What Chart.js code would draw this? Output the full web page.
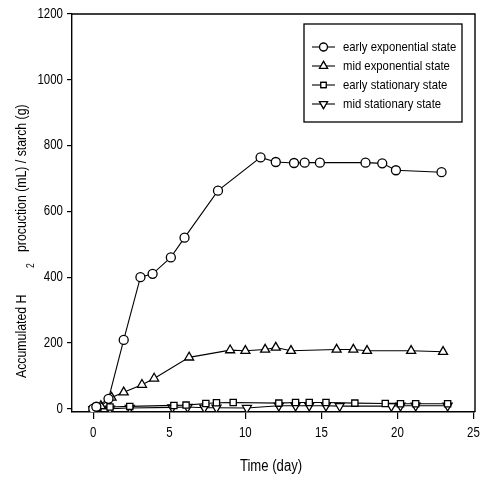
<!DOCTYPE html>
<html>
<head>
<meta charset="utf-8">
<script src="https://cdn.jsdelivr.net/npm/chart.js@4/dist/chart.umd.min.js"></script>
<style>
  html, body { margin: 0; padding: 0; background: #fff; }
  #wrap { width: 484px; height: 484px; }
</style>
</head>
<body>
<div id="wrap"><canvas id="chart" width="484" height="484"></canvas></div>
<script>
// series labels
const seriesNames = ['early exponential state', 'mid exponential state', 'early stationary state', 'mid stationary state'];

// (day, mL/g)
const earlyExpDays = [0, 0.2, 1, 2, 3.1, 3.9, 5.1, 6, 8.2, 11, 12, 13.2, 13.9, 14.9, 17.9, 19, 19.9, 22.9];
const earlyExpVals = [0, 6, 30, 209, 400, 410, 460, 520, 663, 764, 750, 747, 748, 748, 748, 746, 725, 719];

const midExpDays = [0, 0.5, 1.2, 2, 3.2, 4, 6.3, 9, 10, 11.3, 12, 13, 16, 17.1, 18, 20.9, 23];
const midExpVals = [0, 8, 34, 50, 73, 92, 156, 178, 176, 180, 186, 176, 180, 180, 176, 176, 173];

const earlyStatDays = [0, 0.3, 1.1, 2.4, 5.3, 6.1, 7.4, 8.1, 9.2, 12.2, 13.3, 14.2, 15.3, 17.2, 19.2, 20.2, 21.2, 23.3];
const earlyStatVals = [0, 3, 5, 7, 10, 11, 16, 18, 19, 17, 19, 19, 19, 17, 16, 15, 15, 15];

const midStatDays = [0, 0.3, 1.1, 2.4, 5.2, 6.2, 7.3, 8.1, 10.1, 12.2, 13.3, 14.2, 15.3, 16.2, 19.6, 20.2, 21.2, 23.3];
const midStatVals = [-2, 0, 0, 2, 4, 5, 3, 3, 2, 9, 9, 9, 9, 8, 8, 9, 9, 9];

const xTicks = [0, 5, 10, 15, 20, 25];
const yTicks = [0, 200, 400, 600, 800, 1000, 1200];

const FONT = '"Liberation Sans", Arial, sans-serif';

function pts(xs, ys) {
    return xs.map((x, i) => ({ x: x, y: ys[i] }));
}

// squeeze text sideways, the scan uses a narrow face
function narrowText(ctx, text, x, y, sx) {
    ctx.save();
    ctx.translate(x, y);
    ctx.scale(sx, 1);
    ctx.fillText(text, 0, 0);
    ctx.restore();
}

const markers = [
    { style: 'circle', radius: 4.5, rotation: 0 },
    { style: 'triangle', radius: 5.2, rotation: 0 },
    { style: 'rect', radius: 4.4, rotation: 0 },
    { style: 'triangle', radius: 5.2, rotation: 180 }
];

const seriesData = [
    pts(earlyExpDays, earlyExpVals),
    pts(midExpDays, midExpVals),
    pts(earlyStatDays, earlyStatVals),
    pts(midStatDays, midStatVals)
];

const datasets = seriesData.map((d, i) => ({
    label: seriesNames[i],
    data: d,
    borderColor: '#000',
    borderWidth: 1.1,
    backgroundColor: '#fff',
    pointStyle: markers[i].style,
    pointRadius: markers[i].radius,
    pointRotation: markers[i].rotation,
    pointBorderWidth: 1.3,
    pointBorderColor: '#000',
    pointBackgroundColor: '#fff',
    tension: 0
}));

// tick labels, frame, titles and in-plot legend
const decor = {
    id: 'decor',
    afterDraw(chart) {
        const ctx = chart.ctx;
        const a = chart.chartArea;
        const xs = chart.scales.x;
        const ys = chart.scales.y;
        ctx.save();
        ctx.strokeStyle = '#000';
        ctx.lineWidth = 1.4;
        ctx.beginPath();
        ctx.moveTo(a.left, a.top);
        ctx.lineTo(a.right, a.top);
        ctx.lineTo(a.right, a.bottom);
        ctx.stroke();

        ctx.fillStyle = '#000';
        ctx.font = '14px ' + FONT;
        ctx.textBaseline = 'middle';

        // tick labels
        ctx.textAlign = 'right';
        yTicks.forEach(v => narrowText(ctx, String(v), 63, ys.getPixelForValue(v), 0.82));
        ctx.textAlign = 'center';
        xTicks.forEach(v => narrowText(ctx, String(v), xs.getPixelForValue(v), 433, 0.82));

        // x title
        ctx.font = '16px ' + FONT;
        narrowText(ctx, 'Time (day)', 271, 467, 0.82);

        // y title with subscript
        ctx.translate(22, 0);
        ctx.rotate(-Math.PI / 2);
        ctx.textAlign = 'left';
        ctx.font = '15px ' + FONT;
        narrowText(ctx, 'Accumulated H', -378, 0, 0.82);
        ctx.font = '10px ' + FONT;
        narrowText(ctx, '2', -268, 9, 0.85);
        ctx.font = '15px ' + FONT;
        narrowText(ctx, 'procuction (mL) / starch (g)', -252, 0, 0.82);
        ctx.restore();

        // legend
        ctx.save();
        ctx.strokeStyle = '#000';
        ctx.lineWidth = 1.3;
        ctx.strokeRect(304, 24, 158, 98);
        ctx.font = '13px ' + FONT;
        ctx.textBaseline = 'middle';
        ctx.textAlign = 'left';
        const rows = [47, 66, 85, 104];
        seriesNames.forEach((name, i) => {
            const y = rows[i];
            ctx.lineWidth = 1.1;
            ctx.beginPath();
            ctx.moveTo(312, y);
            ctx.lineTo(335, y);
            ctx.stroke();
            ctx.fillStyle = '#fff';
            ctx.lineWidth = 1.2;
            Chart.helpers.drawPoint(ctx, {
                pointStyle: markers[i].style,
                radius: markers[i].radius - 0.6,
                rotation: markers[i].rotation,
                borderWidth: 1.2
            }, 323.5, y);
            ctx.fill();
            ctx.stroke();
            ctx.fillStyle = '#000';
            narrowText(ctx, name, 343, y + 0.5, 0.87);
        });
        ctx.restore();
    }
};

new Chart(document.getElementById('chart').getContext('2d'), {
    type: 'line',
    data: { datasets: datasets },
    options: {
        responsive: false,
        animation: false,
        devicePixelRatio: 1,
        layout: { padding: { left: 0, right: 9, top: 14, bottom: 0 } },
        plugins: {
            legend: { display: false },
            tooltip: { enabled: false }
        },
        scales: {
            x: {
                type: 'linear',
                min: -1.4,
                max: 25.1,
                afterBuildTicks(s) { s.ticks = xTicks.map(v => ({ value: v })); },
                afterFit(s) { s.height = 72; },
                grid: { drawOnChartArea: false, drawTicks: true, tickLength: 7, color: '#000', lineWidth: 1.2 },
                border: { display: true, color: '#000', width: 1.4 },
                ticks: { display: false }
            },
            y: {
                type: 'linear',
                min: -10,
                max: 1200,
                afterBuildTicks(s) { s.ticks = yTicks.map(v => ({ value: v })); },
                afterFit(s) { s.width = 72; },
                grid: { drawOnChartArea: false, drawTicks: true, tickLength: 5, color: '#000', lineWidth: 1.2 },
                border: { display: true, color: '#000', width: 1.4 },
                ticks: { display: false }
            }
        }
    },
    plugins: [decor]
});
</script>
</body>
</html>
